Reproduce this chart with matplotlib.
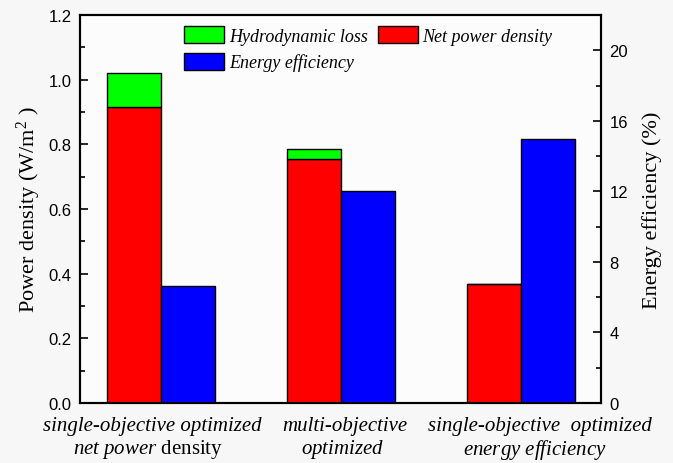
import matplotlib.pyplot as plt
from matplotlib.ticker import MultipleLocator
from matplotlib.transforms import blended_transform_factory

plt.rcParams["mathtext.fontset"] = "custom"
plt.rcParams["mathtext.rm"] = "Liberation Serif"
plt.rcParams["mathtext.it"] = "Liberation Serif:italic"

# Three optimization cases (two-line category labels)
case_line1 = ["single-objective optimized", "multi-objective", "single-objective  optimized"]
case_line2 = [r"$\mathit{net\ power}$ density", r"$\mathit{optimized}$", r"$\mathit{energy\ efficiency}$"]
net_power = [0.916, 0.755, 0.367]       # W/m^2
total_power = [1.021, 0.785, 0.367]     # net + hydrodynamic loss
efficiency = [6.64, 12.0, 14.95]        # %

hydro_loss = [t - n for t, n in zip(total_power, net_power)]

fig = plt.figure(figsize=(6.73, 4.64), dpi=100, facecolor="#f7f7f7")
ax = fig.add_axes([80 / 673, 60 / 464, 521 / 673, 388 / 464])
ax.set_facecolor("#fcfcfc")
ax2 = ax.twinx()

x = [1, 2, 3]
w = 0.3
red_x = [xi - w / 2 for xi in x]
blue_x = [xi + w / 2 for xi in x]

ax.bar(red_x, net_power, width=w, color="#ff0000", edgecolor="black",
       linewidth=1, label="Net power density", zorder=2)
ax.bar(red_x, hydro_loss, width=w, bottom=net_power, color="#00ff00",
       edgecolor="black", linewidth=1, label="Hydrodynamic loss", zorder=2)
ax2.bar(blue_x, efficiency, width=w, color="#0000ff", edgecolor="black",
        linewidth=1, label="Energy efficiency", zorder=2)

ax.set_xlim(0.55, 3.445)
ax.set_ylim(0, 1.2)
ax2.set_ylim(0, 22)

ax.yaxis.set_major_locator(MultipleLocator(0.2))
ax.yaxis.set_minor_locator(MultipleLocator(0.1))
ax2.yaxis.set_major_locator(MultipleLocator(4))
ax2.yaxis.set_minor_locator(MultipleLocator(2))
ax.yaxis.set_major_formatter(plt.FormatStrFormatter("%.1f"))

for a in (ax, ax2):
    a.tick_params(axis="y", which="major", direction="in", length=6, width=1.2, pad=6)
    a.tick_params(axis="y", which="minor", direction="in", length=3.5, width=1.2)
    for lbl in a.get_yticklabels():
        lbl.set_fontfamily("Liberation Sans")
        lbl.set_fontsize(12)
    for s in a.spines.values():
        s.set_linewidth(1.5)

# category labels drawn as text below the axis
ax.set_xticks([])
trans = blended_transform_factory(ax.transData, ax.transAxes)
line1_x = [0.95, 2.02, 3.105]
line2_x = [0.93, 2.01, 3.08]
for i in range(3):
    ax.text(line1_x[i], -0.058, case_line1[i], transform=trans, ha="center",
            va="center", fontfamily="Liberation Serif", style="italic", fontsize=15)
    ax.text(line2_x[i], -0.118, case_line2[i], transform=trans, ha="center",
            va="center", fontfamily="Liberation Serif", fontsize=15)

ax.set_ylabel(r"Power density (W/m$^{2}$ )", fontfamily="Liberation Serif",
              fontsize=16, labelpad=4)
ax2.set_ylabel("Energy efficiency (%)", fontfamily="Liberation Serif",
               fontsize=16, labelpad=10)

# legend: hydrodynamic loss / energy efficiency in first column, net power in second
h1, l1 = ax.get_legend_handles_labels()
h2, l2 = ax2.get_legend_handles_labels()
handles = [h1[1], h2[0], h1[0]]
labels = [l1[1], l2[0], l1[0]]
ax2.legend(handles, labels, ncol=2, loc="upper left",
           bbox_to_anchor=(0.2, 0.972), frameon=False, borderpad=0,
           borderaxespad=0, handlelength=2.2, handleheight=1.1,
           handletextpad=0.28, columnspacing=0.55, labelspacing=0.44,
           prop={"family": "Liberation Serif", "style": "italic", "size": 13})

fig.savefig("out.png", dpi=100, facecolor=fig.get_facecolor())
